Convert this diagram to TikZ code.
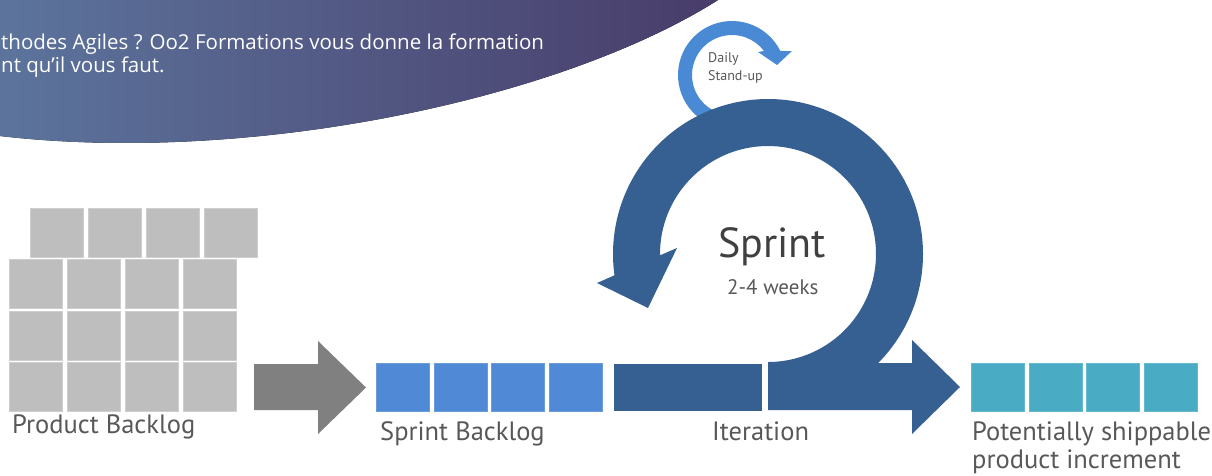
\documentclass[tikz,border=0pt]{standalone}
\usepackage{fontspec}
\setmainfont{PT Sans}
\newfontfamily\bannerfont{Open Sans}
\usetikzlibrary{calc}
\usetikzlibrary{positioning}
\definecolor{bannerleft}{RGB}{92,116,156}
\definecolor{bannerright}{RGB}{72,60,106}
\definecolor{backloggray}{RGB}{190,190,190}
\definecolor{arrowgray}{RGB}{128,128,128}
\definecolor{sprintlight}{RGB}{80,138,214}
\definecolor{sprintdark}{RGB}{54,95,146}
\definecolor{dailyblue}{RGB}{74,138,213}
\definecolor{incrementteal}{RGB}{74,171,197}
\definecolor{labelgray}{RGB}{88,88,88}
\tikzset{
    item/.style={anchor=north west, inner sep=0pt, line width=1pt,
        minimum width=53pt, minimum height=48pt},
    backlogitem/.style={item, fill=backloggray, draw=backloggray!75!white},
    sprintitem/.style={item, fill=sprintlight, draw=sprintlight!85!white},
    incrementitem/.style={item, fill=incrementteal, draw=incrementteal!85!white},
    lbl/.style={anchor=base west, inner sep=0pt, text=labelgray,
        font=\fontsize{26.5}{30}\selectfont},
    dailytext/.style={anchor=base west, inner sep=0pt, text=labelgray,
        font=\fontsize{14}{18}\selectfont},
    bannertext/.style={anchor=base west, inner sep=0pt, text=white,
        font=\bannerfont\fontsize{20.5}{24}\selectfont},
}

\begin{document}
\begin{tikzpicture}[x=1pt, y=-1pt]
\useasboundingbox (0,0) rectangle (1212,475);
% banner
\fill[left color=bannerleft, right color=bannerright]
    (0,0) -- (718,0) .. controls (560,100) and (250,165) .. (0,136) -- cycle;
\node[bannertext] (intro1) at (1,49) {thodes Agiles ? Oo2 Formations vous donne la formation};
\node[bannertext] (intro2) at (1,72) {nt qu’il vous faut.};
% product backlog
\foreach \c in {0,...,3} {
    \node[backlogitem, minimum height=49pt] (pb0\c) at ({30+58*\c},208) {};
    \foreach \r in {1,2,3}
        \node[backlogitem, minimum height=49pt] (pb\r\c) at ({9+58*\c},{208+51.3*\r}) {};
}
\node[lbl] (pblabel) at (12,433) {Product Backlog};
\fill[arrowgray] (254,364) -- (318,364) -- (318,341) -- (366,387.5)
    -- (318,434) -- (318,410) -- (254,410) -- cycle;
% sprint backlog
\foreach \c in {0,...,3}
    \node[sprintitem] (sb\c) at ({376+57.7*\c},363) {};
\node[lbl] (sblabel) at (380,440) {Sprint Backlog};
% daily stand-up
\coordinate (dc) at (732,75);
\fill[dailyblue] ($(dc)+(-26.4:54)$) arc[start angle=-26.4, end angle=-250, radius=54]
    -- ($(dc)+(-250:40)$) arc[start angle=-250, end angle=-36.9, radius=40]
    -- (758,52) -- (777,65) -- (792,51) -- cycle;
\node[dailytext] (daily) at (708,62) {Daily};
\node[dailytext] (standup) at (708,80) {Stand-up};
% sprint loop
\coordinate (sc) at (768,254);
\fill[sprintdark] ($(sc)+(90:155)$) arc[start angle=90, end angle=-187.9, radius=155]
    -- (597,283) -- (648,308) -- (677,248)
    -- ($(sc)+(-180.7:108)$) arc[start angle=-180.7, end angle=90, radius=108] -- cycle;
\node[item, fill=sprintdark, minimum width=148pt, minimum height=47pt] (iter) at (613,363) {};
\fill[sprintdark] (768,363) -- (912,363) -- (912,340) -- (960,387)
    -- (912,434) -- (912,410) -- (768,410) -- cycle;
\node[lbl, text=black!75, font=\fontsize{42}{46}\selectfont] (sprint) at (718,257) {Sprint};
\node[lbl, font=\fontsize{21}{24}\selectfont] (weeks) at (727,294) {2-4 weeks};
\node[lbl] (iterlabel) at (712,440) {Iteration};
% increment
\foreach \c in {0,...,3}
    \node[incrementitem] (pi\c) at ({971+57.5*\c},363) {};
\node[lbl] (pilabel) at (972,440) {Potentially shippable};
\node[lbl] (pilabel2) at (972,468) {product increment};
\end{tikzpicture}
\end{document}
